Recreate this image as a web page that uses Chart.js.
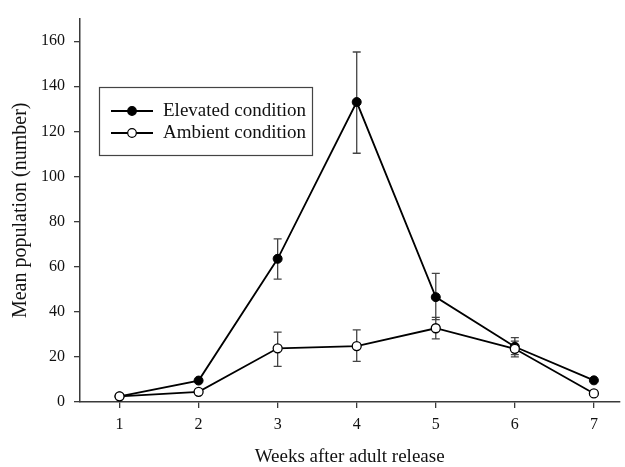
<!DOCTYPE html>
<html>
<head>
<meta charset="utf-8">
<script src="https://cdn.jsdelivr.net/npm/chart.js@4/dist/chart.umd.min.js"></script>
<style>
  html, body { margin: 0; padding: 0; background: #fff; }
  #wrap { width: 625px; height: 467px; position: relative; }
</style>
</head>
<body>
<div id="wrap"><canvas id="chart"></canvas></div>
<script>
// weeks after adult release
const weeks = [1, 2, 3, 4, 5, 6, 7];
const yTicks = [0, 20, 40, 60, 80, 100, 120, 140, 160];

// elevated condition (mean, error bar low / high)
const elevated = [2.5, 9.5, 63.5, 133, 46.5, 24.5, 9.6];
const elevatedLow = [null, null, 54.5, 110.3, 36.5, 21, null];
const elevatedHigh = [null, null, 72.3, 155.2, 57, 28.5, null];

// ambient condition
const ambient = [2.5, 4.5, 23.8, 24.8, 32.7, 23.6, 3.8];
const ambientLow = [null, null, 15.8, 18, 28, 20, null];
const ambientHigh = [null, null, 31, 32, 37.5, 27, null];

const seriesNames = ['Elevated condition', 'Ambient condition'];

const FONT = "'Liberation Serif', 'Times New Roman', serif";
const AXIS = '#3a3a3a';
const INK = '#111';

const toPoints = (vals) => weeks.map((w, i) => ({ x: w, y: vals[i] }));

const errorBars = {
    id: 'errorBars',
    beforeDatasetsDraw(chart) {
        const { ctx, scales: { x, y } } = chart;
        const sets = [[elevatedLow, elevatedHigh], [ambientLow, ambientHigh]];
        ctx.save();
        ctx.strokeStyle = '#444';
        ctx.lineWidth = 1.3;
        sets.forEach(([lo, hi]) => {
            weeks.forEach((w, i) => {
                if (lo[i] == null || hi[i] == null) return;
                const px = x.getPixelForValue(w);
                const y1 = y.getPixelForValue(lo[i]);
                const y2 = y.getPixelForValue(hi[i]);
                ctx.beginPath();
                ctx.moveTo(px, y1); ctx.lineTo(px, y2);
                ctx.moveTo(px - 4, y1); ctx.lineTo(px + 4, y1);
                ctx.moveTo(px - 4, y2); ctx.lineTo(px + 4, y2);
                ctx.stroke();
            });
        });
        ctx.restore();
    }
};

const boxLegend = {
    id: 'boxLegend',
    afterDraw(chart) {
        const { ctx } = chart;
        ctx.save();
        ctx.strokeStyle = '#444';
        ctx.lineWidth = 1.2;
        ctx.strokeRect(99.5, 87.5, 213, 68);
        const rows = [
            { y: 111, fill: '#000' },
            { y: 133, fill: '#fff' }
        ];
        rows.forEach((r, i) => {
            ctx.strokeStyle = '#000';
            ctx.lineWidth = 1.8;
            ctx.beginPath();
            ctx.moveTo(111, r.y); ctx.lineTo(153, r.y);
            ctx.stroke();
            ctx.beginPath();
            ctx.arc(132, r.y, 4.3, 0, Math.PI * 2);
            ctx.fillStyle = r.fill;
            ctx.fill();
            ctx.lineWidth = 1.2;
            ctx.stroke();
            ctx.fillStyle = INK;
            ctx.font = '19px ' + FONT;
            ctx.textBaseline = 'middle';
            ctx.textAlign = 'left';
            ctx.fillText(seriesNames[i], 163, r.y);
        });
        ctx.restore();
    }
};

new Chart(document.getElementById('chart'), {
    type: 'line',
    data: {
        datasets: [
            {
                label: seriesNames[0],
                data: toPoints(elevated),
                borderColor: '#000',
                borderWidth: 1.8,
                backgroundColor: '#000',
                pointBackgroundColor: '#000',
                pointBorderColor: '#000',
                pointRadius: 4.5,
                pointBorderWidth: 1,
                tension: 0,
                order: 2
            },
            {
                label: seriesNames[1],
                data: toPoints(ambient),
                borderColor: '#000',
                borderWidth: 1.8,
                backgroundColor: '#fff',
                pointBackgroundColor: '#fff',
                pointBorderColor: '#000',
                pointRadius: 4.5,
                pointBorderWidth: 1.3,
                tension: 0,
                order: 1
            }
        ]
    },
    options: {
        responsive: true,
        maintainAspectRatio: false,
        animation: false,
        layout: { padding: { top: 11, right: 0, left: 0, bottom: 0 } },
        plugins: {
            legend: { display: false },
            tooltip: { enabled: false }
        },
        scales: {
            x: {
                type: 'linear',
                min: 0.5,
                max: 7.32,
                afterBuildTicks: (s) => { s.ticks = weeks.map(v => ({ value: v })); },
                afterFit: (s) => { s.height = 65; },
                grid: { display: true, drawOnChartArea: false, drawTicks: true, tickLength: 6, color: AXIS, lineWidth: 1.3 },
                border: { display: true, color: AXIS, width: 1.5 },
                ticks: { color: INK, padding: 7, font: { family: FONT, size: 16 } },
                title: { display: true, text: 'Weeks after adult release', color: INK, padding: { top: 0, bottom: 0 }, font: { family: FONT, size: 19, lineHeight: 1.0 } }
            },
            y: {
                type: 'linear',
                min: 0,
                max: 170,
                afterBuildTicks: (s) => { s.ticks = yTicks.map(v => ({ value: v })); },
                afterFit: (s) => { s.width = 80; },
                grid: { display: true, drawOnChartArea: false, drawTicks: true, tickLength: 6, color: AXIS, lineWidth: 1.3 },
                border: { display: true, color: AXIS, width: 1.5 },
                ticks: { color: INK, padding: 9, font: { family: FONT, size: 16 } },
                title: { display: true, text: 'Mean population (number)', color: INK, padding: { top: 9, bottom: 0 }, font: { family: FONT, size: 20 } }
            }
        }
    },
    plugins: [errorBars, boxLegend]
});
</script>
</body>
</html>
